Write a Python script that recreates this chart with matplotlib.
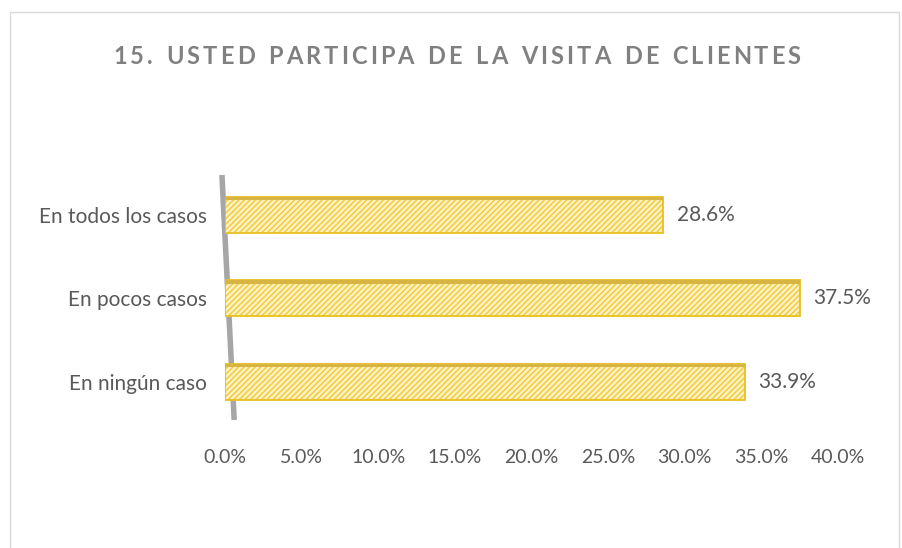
import matplotlib
matplotlib.use("Agg")
import matplotlib.pyplot as plt
from matplotlib.patches import Rectangle
from matplotlib.lines import Line2D

categories = ["En ningún caso", "En pocos casos", "En todos los casos"]
values = [0.339, 0.375, 0.286]
ticks = [0.0, 0.05, 0.10, 0.15, 0.20, 0.25, 0.30, 0.35, 0.40]
title = "15. USTED PARTICIPA DE LA VISITA DE CLIENTES"

plt.rcParams['font.family'] = ['Lato', 'DejaVu Sans']

W, H = 902, 548
fig = plt.figure(figsize=(W / 100, H / 100), dpi=100)
fig.patch.set_facecolor("white")

# chart frame
fig.patches.append(Rectangle((10 / W, -0.05), 889 / W, 1.05 - 12 / H,
                             transform=fig.transFigure, fill=False,
                             edgecolor="#d9d9d9", linewidth=1))

ax = fig.add_axes([225 / W, 1 - 420 / H, (838 - 225) / W, (420 - 175) / H])
ypos = range(len(categories))

# slanted wall line (behind bars)
ax.add_line(Line2D([-0.002, 0.006], [2.48, -0.46], color="#a6a6a6",
                   linewidth=4, solid_capstyle="butt", clip_on=False, zorder=1))

# hatched fill, then outline
ax.barh(ypos, values, height=0.43, color="#fdf1c0", edgecolor="#efc93a",
        hatch="//////", linewidth=0, zorder=2)
ax.barh(ypos, values, height=0.43, color="none", edgecolor="#e9bf1e",
        linewidth=1.3, zorder=3)
# darker top face strip
ax.barh([y + 0.195 for y in ypos], values, height=0.04, color="#d8b443",
        linewidth=0, zorder=3)

for y, v in zip(ypos, values):
    ax.text(v + 0.009, y, f"{v * 100:.1f}%", va="center", ha="left",
            fontsize=15, color="#595959")

ax.set_xlim(0, 0.40)
ax.set_ylim(-0.46, 2.48)
ax.set_xticks(ticks)
ax.set_xticklabels([f"{t * 100:.1f}%" for t in ticks], fontsize=14, color="#595959")
ax.set_yticks(list(ypos))
ax.set_yticklabels(categories, fontsize=15, color="#595959")
ax.tick_params(axis="x", length=0, pad=21)
ax.tick_params(axis="y", length=0, pad=13)
for s in ax.spines.values():
    s.set_visible(False)

# letter-spaced title
fig.canvas.draw()
renderer = fig.canvas.get_renderer()
fsize = 17
spacing = 3.1
widths = []
for ch in title:
    t = fig.text(0, 0, ch if ch != " " else "n", fontsize=fsize, fontweight="bold")
    bb = t.get_window_extent(renderer)
    widths.append(bb.width * (0.55 if ch == " " else 1.0))
    t.remove()
total = sum(widths) + spacing * (len(title) - 1)
x = 457 - total / 2
for ch, w in zip(title, widths):
    if ch != " ":
        fig.text(x / W, 1 - 57 / H, ch, fontsize=fsize, fontweight="bold",
                 color="#808080", va="center", ha="left")
    x += w + spacing

fig.savefig("out.png", dpi=100)
